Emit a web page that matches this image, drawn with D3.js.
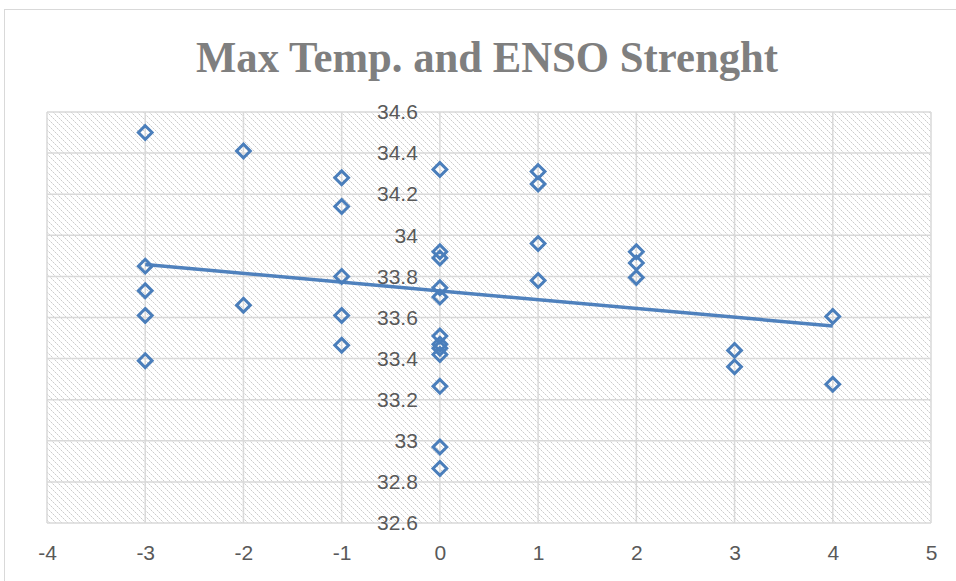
<!DOCTYPE html>
<html>
<head>
<meta charset="utf-8">
<script src="https://cdn.jsdelivr.net/npm/d3@7"></script>
<style>
  body { margin: 0; background: #fff; }
  svg { display: block; }
</style>
</head>
<body>
<div id="chart-area"></div>
<script>
const W = 956, H = 581;
const margin = { LEFT: 47, RIGHT: 25, TOP: 112, BOTTOM: 58 };
const width = W - margin.LEFT - margin.RIGHT;
const height = H - margin.TOP - margin.BOTTOM;

// ENSO strength (x) and max temperature (y)
const ensoX = [-3, -3, -3, -3, -3,
  -2, -2,
  -1, -1, -1, -1, -1,
  0, 0, 0, 0, 0, 0, 0, 0, 0, 0, 0, 0,
  1, 1, 1, 1,
  2, 2, 2,
  3, 3,
  4, 4];
const maxTemp = [34.50, 33.85, 33.73, 33.61, 33.39,
  34.41, 33.66,
  34.28, 34.14, 33.80, 33.61, 33.465,
  34.32, 33.92, 33.89, 33.745, 33.70, 33.51, 33.47, 33.45, 33.42, 33.265, 32.97, 32.865,
  34.31, 34.25, 33.96, 33.78,
  33.92, 33.865, 33.795,
  33.44, 33.36,
  33.605, 33.275];
const xTicks = [-4, -3, -2, -1, 0, 1, 2, 3, 4, 5];
const yTicks = [32.6, 32.8, 33, 33.2, 33.4, 33.6, 33.8, 34, 34.2, 34.4, 34.6];

const points = ensoX.map((x, i) => ({ x: x, y: maxTemp[i] }));

const svg = d3.select("#chart-area").append("svg")
  .attr("width", W)
  .attr("height", H);

// hatch pattern for the plot area (dotted downward diagonals)
const tile = 6;
const defs = svg.append("defs");
const pat = defs.append("pattern")
  .attr("id", "hatch")
  .attr("patternUnits", "userSpaceOnUse")
  .attr("width", tile)
  .attr("height", tile);
pat.append("rect").attr("width", tile).attr("height", tile).attr("fill", "#fff");
d3.range(tile).forEach(i => {
  pat.append("rect")
    .attr("x", i).attr("y", i)
    .attr("width", 1).attr("height", 1)
    .attr("fill", i % 2 === 0 ? "#cccccc" : "#e6e6e6");
});

// chart border
svg.append("rect")
  .attr("x", 4.5).attr("y", 9.5)
  .attr("width", W + 10).attr("height", H + 10)
  .attr("fill", "none")
  .attr("stroke", "#d9d9d9")
  .attr("stroke-width", 1);

// title
svg.append("text")
  .attr("x", 487)
  .attr("y", 72)
  .attr("text-anchor", "middle")
  .attr("font-family", "'Liberation Serif', 'DejaVu Serif', serif")
  .attr("font-weight", "bold")
  .attr("font-size", "44px")
  .attr("fill", "#7f7f7f")
  .attr("textLength", 582)
  .attr("lengthAdjust", "spacingAndGlyphs")
  .text("Max Temp. and ENSO Strenght");

const g = svg.append("g")
  .attr("transform", `translate(${margin.LEFT}, ${margin.TOP})`);

// scales
const x = d3.scaleLinear().domain([-4, 5]).range([0, width]);
const y = d3.scaleLinear().domain([32.6, 34.6]).range([height, 0]);

g.append("rect")
  .attr("width", width)
  .attr("height", height)
  .attr("fill", "url(#hatch)");

// gridlines
g.append("g")
  .selectAll("line")
  .data(yTicks)
  .enter().append("line")
  .attr("x1", 0).attr("x2", width)
  .attr("y1", d => y(d)).attr("y2", d => y(d))
  .attr("stroke", "#d9d9d9")
  .attr("stroke-width", 1.5);

g.append("g")
  .selectAll("line")
  .data(xTicks)
  .enter().append("line")
  .attr("y1", 0).attr("y2", height)
  .attr("x1", d => x(d)).attr("x2", d => x(d))
  .attr("stroke", "#d9d9d9")
  .attr("stroke-width", 1.5);

// y axis labels sit left of x = 0
const yAxis = d3.axisLeft(y)
  .tickValues(yTicks)
  .tickSize(0)
  .tickPadding(0)
  .tickFormat(d => String(d));
g.append("g")
  .attr("class", "y axis")
  .attr("transform", `translate(${x(0) - 22}, 0)`)
  .call(yAxis)
  .call(a => a.select(".domain").remove())
  .selectAll("text")
  .attr("font-family", "'Liberation Sans', Arial, sans-serif")
  .attr("font-size", "21px")
  .attr("fill", "#595959");

// x axis labels below the plot
const xAxis = d3.axisBottom(x)
  .tickValues(xTicks)
  .tickSize(0)
  .tickPadding(22)
  .tickFormat(d => String(d));
g.append("g")
  .attr("class", "x axis")
  .attr("transform", `translate(0, ${height})`)
  .call(xAxis)
  .call(a => a.select(".domain").remove())
  .selectAll("text")
  .attr("font-family", "'Liberation Sans', Arial, sans-serif")
  .attr("font-size", "21px")
  .attr("fill", "#595959");

// linear trendline (least squares)
const mx = d3.mean(points, d => d.x);
const my = d3.mean(points, d => d.y);
const slope = d3.sum(points, d => (d.x - mx) * (d.y - my)) / d3.sum(points, d => (d.x - mx) ** 2);
const intercept = my - slope * mx;
const xMin = d3.min(ensoX), xMax = d3.max(ensoX);

g.append("line")
  .attr("x1", x(xMin)).attr("y1", y(intercept + slope * xMin))
  .attr("x2", x(xMax)).attr("y2", y(intercept + slope * xMax))
  .attr("stroke", "#4f81bd")
  .attr("stroke-width", 3.5);

// diamonds
const diamond = d3.symbol().type(d3.symbolDiamond2).size(120);
g.append("g")
  .selectAll("path")
  .data(points)
  .enter().append("path")
  .attr("d", diamond)
  .attr("transform", d => `translate(${x(d.x)}, ${y(d.y)})`)
  .attr("fill", "none")
  .attr("stroke", "#4a7ebb")
  .attr("stroke-width", 3);
</script>
</body>
</html>
